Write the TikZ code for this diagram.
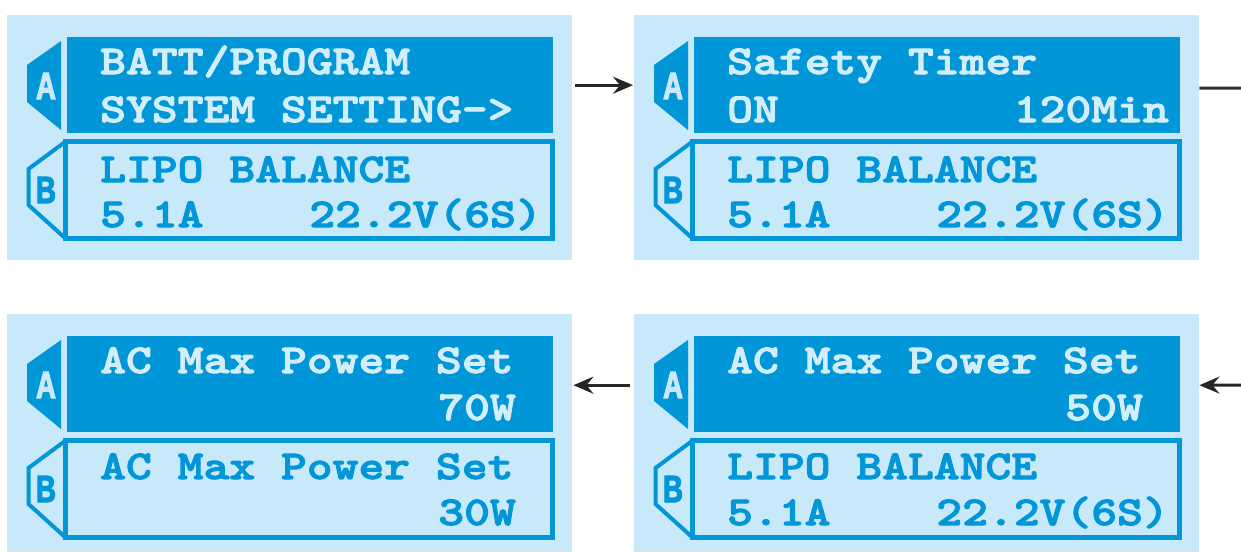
\documentclass[tikz,border=0pt]{standalone}
\usepackage{fontspec}
\usetikzlibrary{arrows.meta}
\newfontfamily\lcdfont{lmmonolt10-bold.otf}[FakeStretch=1.2, FakeBold=2.5]
\newfontfamily\tabfont{Liberation Sans Bold}[FakeStretch=0.72, FakeBold=3]
\definecolor{lcddark}{HTML}{0096D8}
\definecolor{lcdlight}{HTML}{C8E9FA}
\definecolor{lcdtext}{HTML}{D2EEFB}
\tikzset{
  panelbg/.style={fill=lcdlight, draw=none, inner sep=0pt, minimum width=565pt, anchor=north west},
  atext/.style={text=lcdtext, font=\lcdfont\fontsize{41}{41}\selectfont, inner sep=0pt, anchor=base west},
  btext/.style={atext, text=lcddark},
  artext/.style={atext, anchor=base east},
  brtext/.style={btext, anchor=base east},
  tabA/.style={text=lcdlight, font=\tabfont\fontsize{38}{38}\selectfont, inner sep=0pt},
  tabB/.style={tabA, text=lcddark},
  arr/.style={draw=black!85, line width=3pt, -{Stealth[length=20pt,width=17pt,inset=7pt]}},
  conn/.style={draw=black!80, line width=3pt},
}
\newcommand\lcdframe[2]{%
  \node[panelbg, minimum height=#2] (#1) at (7,15) {};
  \fill[lcddark] (27,65) -- (61,41) -- (61,130) -- (27,102) -- cycle;
  \fill[lcddark] (67,37) rectangle (553,133);
  \draw[lcddark, line width=4pt, fill=lcdlight] (65,142) -- (28.5,169) -- (28.5,205) -- (65,238);
  \draw[lcddark, line width=5pt] (65.5,141.5) rectangle (552.5,238.5);
  \node[tabA] (#1-ta) at (46,86) {A};
  \node[tabB] (#1-tb) at (46,190) {B};
}
\begin{document}
\begin{tikzpicture}[x=1pt, y=-1pt]
\useasboundingbox (0,0) rectangle (1241,552);
% top left
\begin{scope}
  \lcdframe{p1}{245pt}
  \node[atext] (p1-a1) at (100,74) {BATT/PROGRAM};
  \node[atext] (p1-a2) at (100,122) {SYSTEM SETTING->};
  \node[btext] (p1-b1) at (100,182) {LIPO BALANCE};
  \node[btext] (p1-b2) at (100,227) {5.1A};
  \node[brtext] (p1-b3) at (542,227) {22.2V(6S)};
\end{scope}
% top right
\begin{scope}[shift={(627,0)}]
  \lcdframe{p2}{245pt}
  \node[atext] (p2-a1) at (100,74) {Safety Timer};
  \node[atext] (p2-a2) at (100,122) {ON};
  \node[artext] (p2-a3) at (542,122) {120Min};
  \node[btext] (p2-b1) at (100,182) {LIPO BALANCE};
  \node[btext] (p2-b2) at (100,227) {5.1A};
  \node[brtext] (p2-b3) at (542,227) {22.2V(6S)};
\end{scope}
% bottom left
\begin{scope}[shift={(0,299)}]
  \lcdframe{p3}{238pt}
  \node[atext] (p3-a1) at (100,74) {AC Max Power Set};
  \node[artext] (p3-a3) at (516,121) {70W};
  \node[btext] (p3-b1) at (100,180) {AC Max Power Set};
  \node[brtext] (p3-b3) at (516,226) {30W};
\end{scope}
% bottom right
\begin{scope}[shift={(627,299)}]
  \lcdframe{p4}{238pt}
  \node[atext] (p4-a1) at (100,74) {AC Max Power Set};
  \node[artext] (p4-a3) at (516,121) {50W};
  \node[btext] (p4-b1) at (100,180) {LIPO BALANCE};
  \node[btext] (p4-b2) at (100,226) {5.1A};
  \node[brtext] (p4-b3) at (542,226) {22.2V(6S)};
\end{scope}
% connectors
\coordinate (edgeT) at (1241,88);
\coordinate (edgeB) at (1241,385);
\draw[arr, shorten <=3pt, shorten >=1pt] ([yshift=52.5pt]p1.east) -- ([yshift=52.5pt]p2.west);
\draw[conn] ([yshift=49.5pt]p2.east) -- (edgeT);
\draw[arr, shorten >=0pt] (edgeB) -- ([yshift=48pt]p4.east);
\draw[arr, shorten <=4pt, shorten >=1pt] ([yshift=48pt]p4.west) -- ([yshift=48pt]p3.east);
\end{tikzpicture}
\end{document}
